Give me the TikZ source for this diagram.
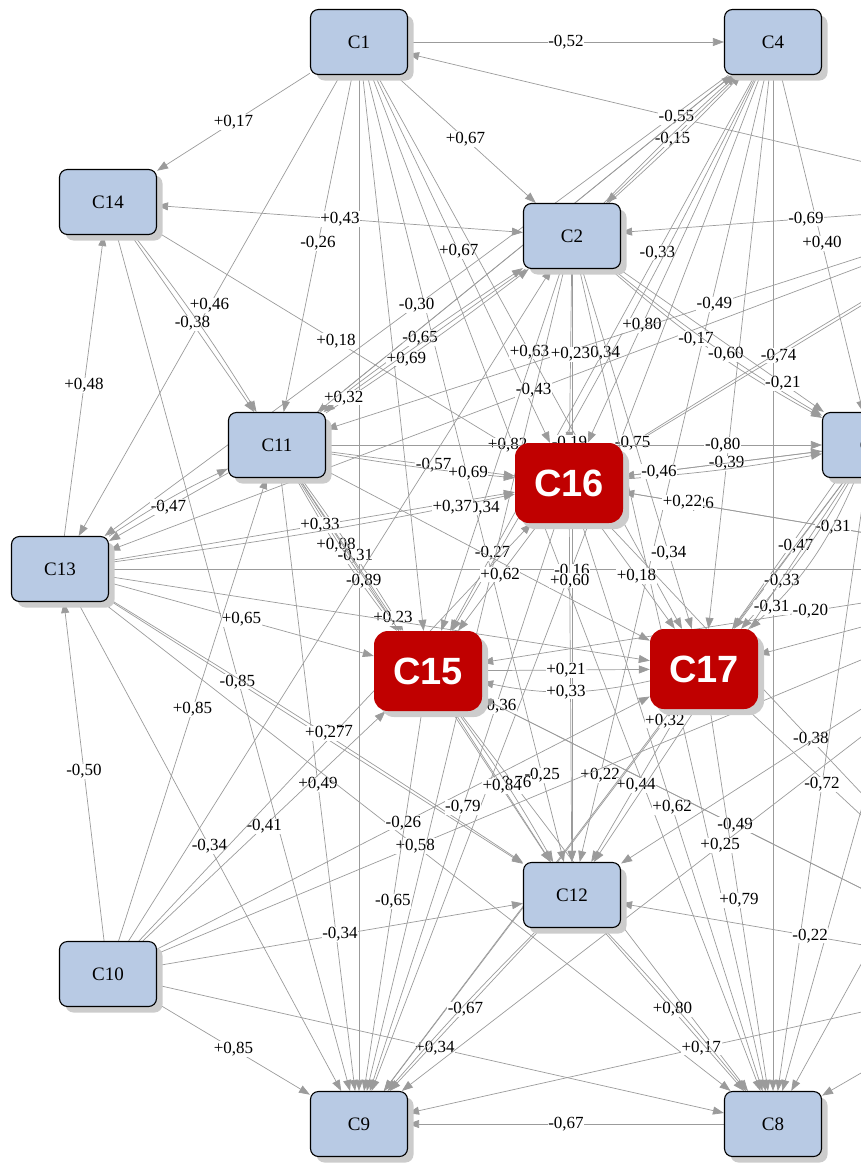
\documentclass[tikz,border=0pt]{standalone}
\usepackage{fontspec}
\setmainfont{Liberation Serif}
\setsansfont{Liberation Sans}
\usetikzlibrary{arrows.meta,shadows,backgrounds}

\begin{document}
\begin{tikzpicture}[x=1pt,y=-1pt,
    concept/.style={draw=black,line width=1.1pt,fill={rgb,255:red,184;green,202;blue,228},
      rounded corners=8pt,minimum width=97pt,minimum height=65pt,inner sep=0pt,
      font=\fontsize{19}{19}\selectfont,
      drop shadow={shadow xshift=6pt,shadow yshift=-6pt,fill=gray!40,opacity=1}},
    keyconcept/.style={fill={rgb,255:red,192;green,0;blue,0},rounded corners=14pt,
      minimum width=108pt,minimum height=80pt,inner sep=0pt,text=white,
      font=\fontsize{38}{38}\selectfont\sffamily\bfseries,
      drop shadow={shadow xshift=6pt,shadow yshift=-6pt,fill=gray!40,opacity=1}},
    wire/.style={->,draw={rgb,255:red,155;green,155;blue,155},line width=0.7pt},
    weight/.style={fill=white,inner sep=0.6pt,font=\fontsize{17}{17}\selectfont},
    >={Triangle[length=11pt,width=8pt]}]
  \useasboundingbox (0,0) rectangle (861,1164);

  \node[concept] (C1) at (359,42) {C1};
  \node[concept] (C4) at (773,42) {C4};
  \node[concept] (C14) at (108,202) {C14};
  \node[concept] (C2) at (572,236) {C2};
  \node[concept] (C11) at (277,445) {C11};
  \node[concept] (C3) at (871,445) {C3};
  \node[concept] (C13) at (60,569) {C13};
  \node[concept] (C12) at (572,895) {C12};
  \node[concept] (C10) at (108,974) {C10};
  \node[concept] (C9) at (359,1124) {C9};
  \node[concept] (C8) at (773,1124) {C8};
  \node[keyconcept] (C16) at (569,483) {C16};
  \node[keyconcept] (C15) at (428,671) {C15};
  \node[keyconcept] (C17) at (704,669) {C17};
  \coordinate (C5) at (1032,202);
  \coordinate (C6) at (1079,569);
  \coordinate (C7) at (1032,974);

  \begin{scope}[on background layer]
  \draw[wire] (C1) -- node[weight] {-0,52} (C4);
  \draw[wire] (C1) -- node[weight] {+0,17} (C14);
  \draw[wire] (C1) -- node[weight] {+0,67} (C2);
  \draw[wire] (C1) -- node[weight] {-0,26} (C11);
  \draw[wire] (C1) -- node[weight] {+0,46} (C13);
  \draw[wire] (C1) -- node[weight,pos=.48] {+0,67} (C16);
  \draw[wire] (C1) -- node[weight] {+0,63} (C17);
  \draw[wire] (C1) -- node[weight,pos=.89] {-0,25} (C12);
  \draw[wire] (C1) -- (C15);
  \draw[wire] (C1) -- (C9);
  \draw[wire] (C1) -- (C8);

  \draw[wire] (C4) -- node[weight] {-0,15} (C2);
  \draw[wire] (C4) -- node[weight] {+0,40} (C3);
  \draw[wire] (C4) -- node[weight] {-0,30} (C13);
  \draw[wire] (C4) -- node[weight,pos=.32] {-0,33} node[weight] {-0,34} node[weight,pos=.86] {-0,27} (C15);
  \draw[wire] (C4) to[bend left=2] (C15);
  \draw[wire] (C4) -- node[weight,pos=.68] {+0,80} (C16);
  \draw[wire] (C4) -- node[weight,pos=.89] {+0,22} (C12);
  \draw[wire] (C4) -- (C8);
  \draw[wire] (C4) -- (C17);
  \draw[wire] (C4) -- (C11);
  \draw[wire] (C4) -- (C9);

  \draw[wire] (C5) -- node[weight,pos=.57] {-0,55} (C1);
  \draw[wire] (C5) -- node[weight,pos=.55] {-0,69} (C2);
  \draw[wire] (C5) -- node[weight,pos=.45] {-0,49} (C11);
  \draw[wire] (C5) -- node[weight,pos=.54] {-0,43} (C13);
  \draw[wire] (C5) -- node[weight,pos=.62] {-0,74} (C16);
  \draw[wire] (C5) to[bend right=1] node[weight,pos=.98] {-0,75} (C16);
  \draw[wire] (C5) -- (C8);
  \draw[wire] (C5) -- (C17);

  \draw[wire,<->] (C14) -- node[weight] {+0,43} (C2);
  \draw[wire] (C14) -- node[weight] {-0,38} (C11);
  \draw[wire] (C14) to[bend left=3] (C11);
  \draw[wire] (C14) -- node[weight] {+0,18} node[weight,pos=.98] {+0,82} (C16);
  \draw[wire] (C14) -- (C9);
  \draw[wire] (C13) -- node[weight] {+0,48} (C14);

  \draw[wire] (C11) to[bend left=2] node[weight] {-0,65} (C2);
  \draw[wire] (C11) to[bend right=2] node[weight,pos=.38] {+0,69} (C2);
  \draw[wire] (C2) -- node[weight,pos=.9] {+0,32} (C11);
  \draw[wire] (C11) -- (C4);
  \draw[wire] (C11) -- node[weight,pos=.57] {-0,57} (C16);
  \draw[wire] (C11) to[bend right=2] node[weight,pos=.77] {+0,69} (C16);
  \draw[wire] (C11) -- node[weight,pos=.8] {-0,80} (C3);
  \draw[wire] (C11) -- node[weight] {-0,47} (C13);
  \draw[wire] (C13) to[bend left=4] (C11);
  \draw[wire] (C11) to[bend right=4] node[weight,pos=.42] {+0,08} (C15);
  \draw[wire] (C11) to[bend left=2] node[weight,pos=.52] {-0,31} (C15);
  \draw[wire] (C11) to[bend right=2] node[weight,pos=.68] {-0,89} (C15);
  \draw[wire] (C11) -- node[weight,pos=.92] {+0,23} (C15);
  \draw[wire] (C11) -- node[weight] {+0,49} (C9);
  \draw[wire] (C11) -- (C17);
  \draw[wire] (C11) -- (C12);

  \draw[wire] (C13) -- node[weight] {+0,65} (C15);
  \draw[wire] (C13) -- node[weight,pos=.31] {-0,85} (C12);
  \draw[wire] (C13) -- node[weight] {-0,34} (C9);
  \draw[wire] (C13) -- (C6);
  \draw[wire] (C13) -- (C17);
  \draw[wire] (C13) -- (C8);

  \draw[wire] (C10) -- node[weight] {-0,50} (C13);
  \draw[wire] (C10) -- node[weight] {+0,85} (C11);
  \draw[wire] (C10) -- node[weight] {-0,41} (C15);
  \draw[wire] (C10) -- node[weight] {-0,37} (C16);
  \draw[wire] (C13) to[bend left=1] node[weight,pos=.52] {+0,27} (C12);
  \draw[wire] (C10) -- node[weight] {-0,26} (C17);
  \draw[wire] (C10) -- node[weight,pos=.28] {+0,58} (C6);
  \draw[wire] (C10) -- node[weight] {-0,34} (C12);
  \draw[wire] (C10) -- node[weight] {+0,85} (C9);
  \draw[wire] (C10) -- node[weight,pos=.49] {+0,34} (C8);
  \draw[wire] (C10) -- (C2);

  \draw[wire] (C2) to[bend left=2] (C4);
  \draw[wire] (C2) to[bend right=2] (C4);
  \draw[wire] (C2) to[bend right=6] node[weight,pos=.42] {-0,17} (C3);
  \draw[wire] (C2) to[bend right=4] node[weight,pos=.56] {-0,60} (C3);
  \draw[wire] (C2) -- node[weight,pos=.8] {-0,21} (C3);
  \draw[wire] (C2) -- node[weight,pos=.51] {-0,16} (C12);
  \draw[wire] (C2) -- node[weight,pos=.66] {-0,34} (C15);
  \draw[wire] (C13) -- node[weight,pos=.52] {+0,33} (C16);
  \draw[wire] (C13) to[bend right=2] node[weight,pos=.86] {+0,37} (C16);
  \draw[wire] (C2) -- node[weight,pos=.79] {-0,34} (C17);
  \draw[wire] (C2) -- (C9);
  \draw[wire] (C2) -- (C8);
  \draw[wire] (C2) -- node[weight,pos=.49] {+0,23} node[weight,pos=1] {-0,19} (C16);

  \draw[wire] (C16) -- node[weight,pos=.52] {-0,39} (C3);
  \draw[wire] (C16) to[bend right=3] (C3);
  \draw[wire] (C3) -- node[weight,pos=.82] {-0,46} (C16);
  \draw[wire] (C16) -- node[weight,pos=.48] {+0,62} (C15);
  \draw[wire] (C16) -- node[weight,pos=.17] {+0,60} (C12);
  \draw[wire] (C16) -- node[weight] {+0,18} (C17);
  \draw[wire] (C16) -- node[weight] {-0,79} (C9);
  \draw[wire] (C16) -- node[weight] {+0,62} (C8);
  \draw[wire] (C16) -- node[weight,pos=.48] {-0,38} (C7);
  \draw[wire] (C16) -- node[weight,pos=.16] {-0,26} (C6);
  \draw[wire] (C6) -- node[weight,pos=.54] {-0,31} node[weight,pos=.87] {+0,22} (C16);

  \draw[wire] (C15) -- node[weight] {+0,21} (C17);
  \draw[wire] (C17) to[bend left=12] node[weight] {+0,33} (C15);
  \draw[wire] (C15) -- node[weight,pos=.03] {-0,36} (C7);
  \draw[wire] (C7) -- node[weight,pos=.54] {-0,49} (C15);
  \draw[wire] (C15) -- node[weight,pos=.19] {-0,76} (C8);
  \draw[wire] (C15) -- node[weight] {+0,84} (C12);
  \draw[wire] (C15) to[bend left=3] (C12);
  \draw[wire] (C15) -- node[weight] {-0,65} (C9);
  \draw[wire] (C6) -- node[weight,pos=.45] {-0,20} (C15);
  \draw[wire] (C17) -- node[weight] {+0,44} (C12);
  \draw[wire] (C17) -- node[weight] {+0,79} (C8);
  \draw[wire] (C17) -- node[weight,pos=.03] {+0,32} (C9);
  \draw[wire] (C17) -- (C7);
  \draw[wire] (C6) -- (C17);
  \draw[wire] (C3) -- node[weight,pos=.45] {-0,47} (C17);
  \draw[wire] (C3) to[bend left=6] node[weight,pos=.68] {-0,33} (C17);
  \draw[wire] (C3) to[bend left=12] node[weight,pos=.85] {-0,31} (C17);
  \draw[wire] (C3) -- node[weight] {-0,72} (C8);
  \draw[wire] (C3) -- (C12);
  \draw[wire] (C3) -- (C9);
  \draw[wire] (C6) -- (C8);
  \draw[wire] (C7) -- (C8);
  \draw[wire] (C6) -- (C12);
  \draw[wire] (C6) -- node[weight,pos=.53] {+0,25} (C9);
  \draw[wire] (C7) -- node[weight,pos=.54] {-0,22} (C12);
  \draw[wire] (C7) -- node[weight,pos=.53] {+0,17} (C9);
  \draw[wire] (C12) -- node[weight] {-0,67} (C9);
  \draw[wire] (C12) to[bend right=2] (C9);
  \draw[wire] (C12) -- node[weight] {+0,80} (C8);
  \draw[wire] (C12) to[bend left=2] (C8);
  \draw[wire] (C8) -- node[weight] {-0,67} (C9);
  \end{scope}
\end{tikzpicture}
\end{document}
